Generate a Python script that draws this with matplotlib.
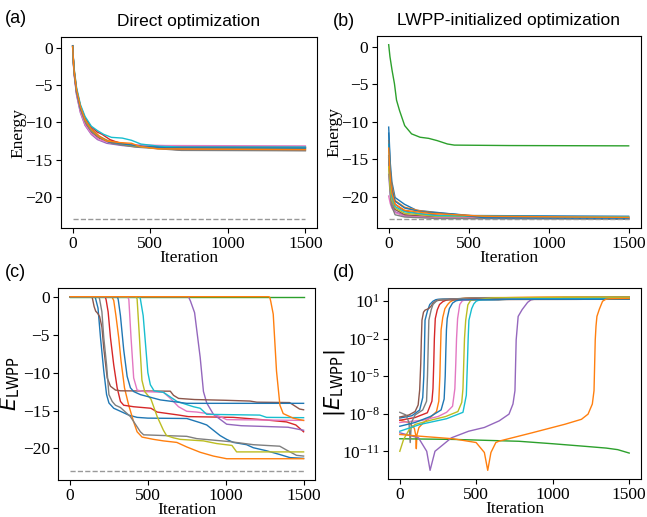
import matplotlib
matplotlib.use("Agg")
import matplotlib.pyplot as plt
from matplotlib.ticker import NullLocator

plt.rcParams['font.family'] = ['Liberation Serif', 'DejaVu Serif']
plt.rcParams['mathtext.fontset'] = 'dejavusans'
plt.rcParams['font.size'] = 12.5

# ground state energy (dashed reference line)
E_ground = -23.0
energy_ticks = [0, -5, -10, -15, -20]
log_ticks = [1e1, 1e-2, 1e-5, 1e-8, 1e-11]

# (a) direct optimization, (iteration, energy)
a_blue1 = [(0, 0.3), (8, -3.0), (25, -5.8), (50, -8.0), (80, -9.8), (120, -11.0), (170, -11.9), (230, -12.5), (320, -13.0), (450, -13.3), (650, -13.5), (1500, -13.55)]
a_orange1 = [(0, 0.2), (8, -2.6), (25, -5.5), (50, -7.8), (80, -9.5), (120, -10.8), (170, -11.8), (220, -12.4), (300, -12.7), (400, -13.1), (550, -13.5), (1500, -13.6)]
a_green = [(0, 0.1), (8, -3.1), (25, -6.0), (50, -8.3), (80, -10.0), (120, -11.2), (170, -12.0), (230, -12.6), (320, -13.0), (450, -13.25), (650, -13.35), (1500, -13.35)]
a_red = [(0, 0.3), (8, -2.8), (25, -5.6), (50, -7.8), (80, -9.4), (120, -10.6), (160, -11.3), (190, -11.6), (240, -12.3), (320, -12.9), (450, -13.2), (1500, -13.3)]
a_purple = [(0, 0.2), (8, -3.3), (25, -6.3), (50, -8.7), (80, -10.4), (120, -11.6), (160, -12.3), (220, -12.8), (320, -13.1), (450, -13.3), (1500, -13.4)]
a_brown = [(0, 0.1), (8, -3.0), (25, -6.0), (50, -8.4), (80, -10.1), (120, -11.3), (170, -12.1), (250, -12.7), (400, -13.2), (700, -13.7), (1500, -13.75)]
a_pink = [(0, 0.2), (8, -3.2), (25, -6.2), (50, -8.6), (80, -10.3), (120, -11.5), (170, -12.3), (250, -12.8), (400, -13.0), (600, -13.1), (1500, -13.15)]
a_gray = [(0, 0.2), (8, -2.9), (25, -5.9), (50, -8.2), (80, -9.9), (120, -11.2), (170, -12.0), (250, -12.8), (400, -13.3), (700, -13.75), (1500, -13.8)]
a_olive = [(0, 0.3), (8, -3.0), (25, -5.7), (50, -8.0), (80, -9.7), (120, -11.0), (170, -11.9), (230, -12.5), (350, -13.0), (500, -13.4), (1500, -13.5)]
a_cyan = [(0, 0.2), (8, -2.5), (25, -5.3), (50, -7.6), (80, -9.2), (120, -10.5), (160, -11.1), (200, -11.6), (250, -12.0), (320, -12.1), (380, -12.4), (440, -12.9), (560, -13.2), (700, -13.3), (1500, -13.3)]
a_blue2 = [(0, 0.3), (8, -2.9), (25, -5.8), (50, -8.1), (80, -9.6), (120, -10.9), (170, -11.9), (230, -12.6), (330, -12.9), (450, -13.2), (600, -13.4), (1500, -13.45)]
a_orange2 = [(0, 0.2), (8, -2.8), (25, -5.6), (50, -7.9), (80, -9.6), (120, -10.9), (170, -11.9), (220, -12.5), (300, -12.7), (380, -12.8), (430, -13.2), (550, -13.55), (1500, -13.65)]

# (b) LWPP-initialized optimization
b_blue1 = [(0, -10.7), (10, -15.5), (20, -18.0), (40, -20.1), (99, -21.0), (174, -21.8), (263, -22.0), (353, -22.2), (513, -22.5), (1500, -22.6)]
b_orange1 = [(0, -12.5), (10, -16.5), (20, -18.5), (40, -20.5), (100, -21.4), (200, -21.9), (400, -22.4), (700, -22.7), (1500, -22.8)]
b_green = [(0, 0.3), (8, -1.3), (21, -3.1), (36, -4.9), (49, -7.1), (68, -8.5), (100, -10.5), (143, -11.6), (196, -12.05), (250, -12.2), (303, -12.5), (367, -12.95), (410, -13.1), (752, -13.16), (1500, -13.2)]
b_red = [(0, -14.8), (10, -18.0), (20, -19.5), (40, -21.0), (100, -21.9), (200, -22.3), (500, -22.7), (1500, -22.8)]
b_purple = [(0, -17.0), (10, -19.8), (20, -21.0), (40, -22.0), (100, -22.5), (300, -22.8), (1500, -22.9)]
b_brown = [(0, -14.5), (10, -18.5), (20, -20.5), (40, -21.7), (100, -22.4), (300, -22.7), (1500, -22.95)]
b_pink = [(0, -19.9), (10, -20.9), (20, -21.5), (40, -22.1), (100, -22.6), (300, -22.8), (1500, -22.85)]
b_gray = [(0, -14.7), (8, -19.0), (15, -21.0), (40, -22.4), (100, -22.7), (300, -22.9), (1500, -23.0)]
b_olive = [(0, -16.0), (10, -19.0), (20, -20.5), (40, -21.5), (100, -22.2), (300, -22.6), (1500, -22.7)]
b_cyan = [(0, -13.0), (10, -17.5), (20, -20.0), (40, -21.3), (100, -22.0), (300, -22.5), (600, -22.6), (1500, -22.7)]
b_blue2 = [(0, -11.5), (10, -16.5), (20, -19.0), (40, -20.6), (100, -21.5), (200, -22.0), (400, -22.3), (600, -22.8), (1500, -22.9)]
b_orange2 = [(0, -13.5), (10, -17.5), (20, -19.5), (40, -21.0), (100, -21.8), (250, -22.2), (600, -22.6), (1500, -22.75)]

# (c)/(d) LWPP energy, signed; (d) shows its absolute value
c_blue1 = [(0, -4.5e-9), (80, -7e-9), (130, -2e-8), (150, -2e-7), (157, -1e-5), (161, -1e-3), (165, -0.3), (180, -1.5), (196, -5.4), (217, -9.8), (235, -12.9), (250, -14.0), (281, -14.7), (324, -15.1), (377, -15.6), (431, -15.9), (500, -16.0), (750, -16.05), (836, -16.6), (878, -16.9), (921, -17.6), (964, -18.3), (1006, -18.8), (1049, -19.2), (1134, -19.5), (1177, -19.9), (1262, -20.3), (1348, -20.8), (1412, -21.2), (1500, -21.3)]
c_orange1 = [(0, 3e-9), (60, 2e-9), (95, 7e-10), (104, 2e-10), (108, 1.6e-11), (112, -2e-10), (125, -8e-10), (160, -2.2e-9), (200, -5e-9), (240, -1.5e-8), (255, -1e-7), (262, -1e-5), (266, -1e-3), (270, -0.05), (281, -0.5), (295, -2.5), (313, -5.4), (328, -8.5), (350, -12.0), (377, -14.3), (409, -16.5), (431, -17.8), (463, -18.5), (537, -18.8), (600, -19.0), (686, -19.2), (750, -19.8), (836, -20.5), (921, -21.0), (1006, -21.35), (1500, -21.35)]
c_green = [(0, 1e-10), (349, 8.9e-11), (779, 6.3e-11), (1000, 4e-11), (1209, 2.5e-11), (1350, 1.8e-11), (1425, 1.35e-11), (1500, 7.2e-12)]
c_red = [(0, -3e-9), (100, -5e-9), (180, -1.2e-8), (210, -1e-7), (217, -1e-6), (222, -1e-4), (226, -0.01), (232, -0.4), (245, -2.0), (260, -5.4), (281, -9.0), (303, -12.0), (324, -13.8), (345, -14.3), (409, -14.5), (520, -14.7), (560, -15.2), (700, -15.6), (760, -15.8), (1049, -15.9), (1262, -16.25), (1390, -16.5), (1450, -16.9), (1500, -17.8)]
c_purple = [(0, 3e-10), (122, 1.2e-10), (176, 1e-11), (198, 3e-13), (230, -1e-11), (338, -1.2e-10), (450, -4e-10), (553, -8e-10), (650, -2.7e-9), (714, -9.3e-9), (740, -6e-8), (753, -7e-7), (761, -8e-3), (774, -0.6), (800, -2.1), (836, -8.0), (857, -12.5), (878, -14.0), (921, -15.5), (1006, -16.8), (1100, -17.0), (1400, -17.2), (1475, -17.5), (1500, -17.6)]
c_brown = [(0, -5.5e-9), (60, -8e-9), (100, -1.5e-8), (120, -5e-8), (130, -8e-7), (137, -1e-4), (141, -0.01), (145, -0.3), (155, -1.3), (165, -1.9), (178, -2.2), (190, -2.6), (205, -4.0), (217, -6.8), (239, -10.7), (260, -11.8), (292, -12.3), (324, -12.4), (644, -12.45), (665, -13.0), (697, -13.4), (800, -13.55), (1000, -13.65), (1155, -13.75), (1200, -13.9), (1410, -13.95), (1474, -14.8), (1500, -14.9)]
c_pink = [(0, -2e-9), (150, -3e-9), (250, -6e-9), (306, -1.3e-8), (345, -4e-8), (360, -1e-6), (366, -1e-4), (371, -0.01), (378, -0.4), (392, -5.4), (409, -10.7), (431, -12.3), (473, -12.5), (600, -12.6), (650, -13.5), (697, -14.5), (750, -15.1), (814, -15.2), (921, -15.5), (964, -15.8), (1006, -16.2), (1500, -16.3)]
c_gray = [(0, 1.3e-8), (40, 8e-9), (60, 2e-9), (68, 5e-11), (76, -2e-9), (100, -8e-9), (150, -2e-8), (175, -1e-7), (181, -1e-5), (185, -1e-3), (190, -0.3), (205, -2.0), (217, -5.4), (235, -9.0), (250, -12.9), (271, -13.8), (292, -14.3), (324, -14.6), (388, -15.8), (452, -17.8), (473, -18.2), (750, -18.4), (814, -18.7), (1028, -19.1), (1177, -19.5), (1347, -19.7), (1390, -20.2), (1454, -20.9), (1500, -21.0)]
c_olive = [(0, -1e-11), (25, -9e-11), (60, -5e-10), (100, -1.4e-9), (200, -3e-9), (300, -6e-9), (380, -1.5e-8), (405, -8e-8), (413, -1e-6), (418, -1e-4), (423, -0.01), (431, -0.3), (445, -5.0), (462, -11.0), (480, -12.5), (520, -13.5), (560, -15.8), (600, -17.6), (620, -18.3), (665, -18.6), (708, -18.8), (857, -19.0), (942, -19.35), (1040, -19.6), (1070, -20.45), (1500, -20.45)]
c_cyan = [(0, -4e-10), (133, -1.4e-9), (306, -4e-9), (413, -1.3e-8), (435, -3e-7), (442, -1e-4), (447, -0.01), (452, -0.3), (470, -2.5), (484, -6.0), (500, -10.0), (516, -11.6), (540, -12.4), (600, -12.6), (687, -13.8), (793, -14.5), (836, -14.7), (878, -15.5), (1219, -15.6), (1262, -15.9), (1500, -15.94)]
c_blue2 = [(0, -1e-9), (100, -2e-9), (200, -6e-9), (270, -2e-8), (290, -1.5e-7), (297, -1e-5), (301, -1e-3), (305, -0.05), (310, -0.4), (324, -2.5), (345, -7.0), (367, -10.5), (388, -12.0), (409, -12.5), (452, -12.9), (580, -13.6), (750, -14.05), (1500, -14.05)]
c_orange2 = [(0, 2.2e-10), (133, 1.6e-10), (349, 1e-10), (499, 5e-11), (553, 8e-12), (575, 3e-13), (596, -8e-12), (628, -5e-11), (650, -6.5e-11), (865, -3e-10), (1080, -1.45e-9), (1188, -3.6e-9), (1231, -9.3e-9), (1259, -6e-8), (1270, -7e-7), (1278, -8e-3), (1283, -0.1), (1289, -0.6), (1305, -2.3), (1326, -9.8), (1348, -14.3), (1369, -15.4), (1433, -16.0), (1475, -16.2), (1500, -16.3)]

runs_a = [a_blue1, a_orange1, a_green, a_red, a_purple, a_brown, a_pink, a_gray, a_olive, a_cyan, a_blue2, a_orange2]
runs_b = [b_blue1, b_orange1, b_green, b_red, b_purple, b_brown, b_pink, b_gray, b_olive, b_cyan, b_blue2, b_orange2]
runs_c = [c_blue1, c_orange1, c_green, c_red, c_purple, c_brown, c_pink, c_gray, c_olive, c_cyan, c_blue2, c_orange2]

fig = plt.figure(figsize=(6.47, 5.17), dpi=100)
ax1 = fig.add_axes([0.0943, 0.559, 0.3957, 0.3694])
ax2 = fig.add_axes([0.5822, 0.559, 0.4080, 0.3714])
ax3 = fig.add_axes([0.0901, 0.0716, 0.3972, 0.3714])
ax4 = fig.add_axes([0.6002, 0.0735, 0.3900, 0.3688])

lw = 1.0
for run in runs_a:
    x, y = zip(*run)
    ax1.plot(x, y, lw=lw)
for run in runs_b:
    x, y = zip(*run)
    ax2.plot(x, y, lw=lw)
for run in runs_c:
    x, y = zip(*run)
    ax3.plot(x, y, lw=lw)
    ax4.plot(x, [abs(v) for v in y], lw=lw)

for ax in (ax1, ax2, ax3):
    ax.plot([0, 1500], [E_ground, E_ground], ls='--', color='0.6', lw=1.0)
    ax.set_yticks(energy_ticks)

for ax in (ax1, ax2, ax3, ax4):
    ax.set_xticks([0, 500, 1000, 1500])
    ax.set_xlabel('Iteration', fontsize=12.5)
    ax.xaxis.set_label_coords(0.5, -0.113)
    ax.tick_params(labelsize=12.5, pad=2.5)

ax1.set_ylabel('Energy', fontsize=12.5)
ax1.yaxis.set_label_coords(-0.135, 0.5)
ax2.set_ylabel('Energy', fontsize=12.5)
ax2.yaxis.set_label_coords(-0.13, 0.5)
ax3.set_ylabel(r'$E_{\rm LWPP}$', fontsize=15)
ax3.yaxis.set_label_coords(-0.14, 0.5)
ax4.set_ylabel(r'$|E_{\rm LWPP}|$', fontsize=15)
ax4.yaxis.set_label_coords(-0.165, 0.5)

ax4.set_yscale('log')
ax4.set_yticks(log_ticks)
ax4.yaxis.set_minor_locator(NullLocator())

ax1.set_title('Direct optimization', fontsize=12.5, family='Liberation Sans', pad=8)
ax2.set_title('LWPP-initialized optimization', fontsize=12.5, family='Liberation Sans', pad=8)

for lab, x, y in [('(a)', 0.008, 0.98), ('(b)', 0.515, 0.975), ('(c)', 0.008, 0.49), ('(d)', 0.515, 0.49)]:
    fig.text(x, y, lab, fontsize=13, family='Liberation Sans', va='top')

fig.savefig('out.png', dpi=100)
